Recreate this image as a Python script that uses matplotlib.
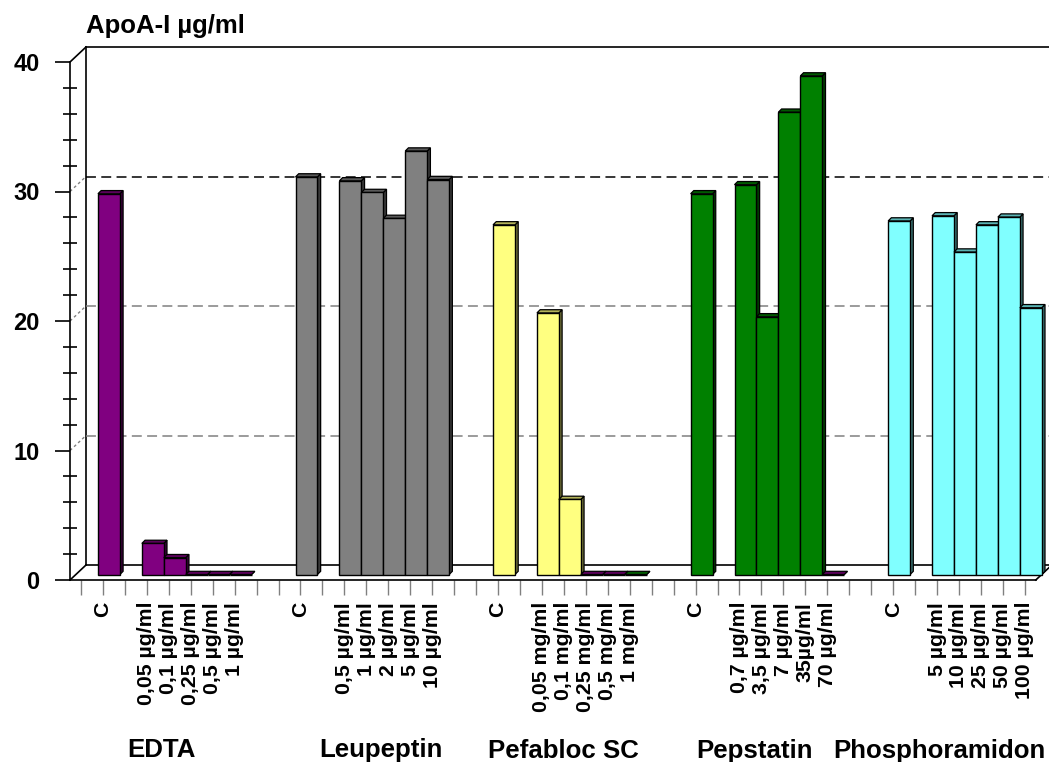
import matplotlib
matplotlib.use('Agg')
from matplotlib import pyplot as plt
from matplotlib.patches import Polygon
from matplotlib.ticker import MultipleLocator
import matplotlib.transforms as mtransforms
import matplotlib.colors as mcolors

plt.rcParams['font.family'] = ['Liberation Sans', 'DejaVu Sans']
plt.rcParams['font.weight'] = 'bold'

# data (ApoA-I, ug/ml)
groups = ['EDTA', 'Leupeptin', 'Pefabloc SC', 'Pepstatin', 'Phosphoramidon']
control = [29.4, 30.7, 27.0, 29.4, 27.3]
edta = [2.4, 1.3, 0.0, 0.0, 0.0]
leupeptin = [30.4, 29.5, 27.5, 32.7, 30.5]
pefabloc = [20.2, 5.8, 0.0, 0.0, 0.0]
pepstatin = [30.1, 19.9, 35.7, 38.5, 0.0]
phosphoramidon = [27.7, 24.9, 27.0, 27.6, 20.6]

edta_labels = ['0,05 µg/ml', '0,1 µg/ml', '0,25 µg/ml', '0,5 µg/ml', '1 µg/ml']
leupeptin_labels = ['0,5 µg/ml', '1 µg/ml', '2 µg/ml', '5 µg/ml', '10 µg/ml']
pefabloc_labels = ['0,05 mg/ml', '0,1 mg/ml', '0,25 mg/ml', '0,5 mg/ml', '1 mg/ml']
pepstatin_labels = ['0,7 µg/ml', '3,5 µg/ml', '7 µg/ml', '35µg/ml', '70 µg/ml']
phosphoramidon_labels = ['5 µg/ml', '10 µg/ml', '25 µg/ml', '50 µg/ml', '100 µg/ml']

series = [edta, leupeptin, pefabloc, pepstatin, phosphoramidon]
series_labels = [edta_labels, leupeptin_labels, pefabloc_labels,
                 pepstatin_labels, phosphoramidon_labels]

group_colors = ['#800080', '#808080', '#FFFF80', '#008000', '#80FFFF']
# the flat (zero) slabs in the original come out in odd colours
slab_colors = {(2, 2): '#800080', (2, 3): '#800080', (2, 4): '#008000',
               (3, 4): '#800080'}

# geometry of the pseudo-3D box (pixels -> data units)
px_x = 21.95   # pixels per category slot
px_y = 12.95   # pixels per ug/ml
n_slots = 44
dxf, dyf = 16 / px_x, 15 / px_y        # full depth of the box
bx, by = 6 / px_x, 5.5 / px_y          # bar front face offset
ddx, ddy = 3.2 / px_x, 3.2 / px_y      # bar thickness

fig = plt.figure(figsize=(10.49, 7.62), dpi=100)
ax = fig.add_axes([70 / 1049, 182 / 762, 979 / 1049, 533 / 762])
xmax = -0.5 + 979 / px_x
ax.set_xlim(-0.5, xmax)
ax.set_ylim(0, 533 / px_y)

# walls and floor
x_back = -0.5 + dxf
wall = dict(color='black', lw=1.2, clip_on=False, zorder=1)
ax.plot([x_back, x_back], [dyf, 40 + dyf], **wall)
ax.plot([x_back, xmax], [40 + dyf, 40 + dyf], **wall)
ax.plot([-0.5, x_back], [40, 40 + dyf], **wall)
ax.plot([x_back, xmax], [dyf, dyf], **wall)
ax.plot([-0.5, x_back], [0, dyf], **wall)
ax.plot([n_slots - 0.5, n_slots - 0.5 + dxf], [0, dyf], **wall)

grid_colors = {10: '#808080', 20: '#808080', 30: '#000000'}
for v, c in grid_colors.items():
    ax.plot([x_back, xmax], [v + dyf, v + dyf], color=c, lw=1.1,
            ls=(0, (6.5, 3.5)), zorder=1)
    ax.plot([-0.5, x_back], [v, v + dyf], color='#808080', lw=1,
            ls=(0, (2, 2)), zorder=1)


def shade(c, f):
    r, g, b = mcolors.to_rgb(c)
    return (r * f, g * f, b * f)


tick_pos = []
tick_lab = []
k = 0
for g, name in enumerate(groups):
    start = 1 + 9 * g
    slots = [start] + [start + 2 + j for j in range(5)]
    values = [control[g]] + series[g]
    labels = ['C'] + series_labels[g]
    for j, (s, v) in enumerate(zip(slots, values)):
        c = group_colors[g]
        if j > 0 and (g, j - 1) in slab_colors:
            c = slab_colors[(g, j - 1)]
        z = 3 + k * 0.01
        x0 = s - 0.5 + bx
        x1 = s + 0.5 + bx
        y0 = by
        y1 = v + by
        ax.add_patch(Polygon([(x1, y0), (x1 + ddx, y0 + ddy), (x1 + ddx, y1 + ddy), (x1, y1)],
                             closed=True, facecolor=shade(c, 0.45), edgecolor='black',
                             lw=0.9, zorder=z))
        ax.add_patch(Polygon([(x0, y1), (x1, y1), (x1 + ddx, y1 + ddy), (x0 + ddx, y1 + ddy)],
                             closed=True, facecolor=shade(c, 0.7), edgecolor='black',
                             lw=0.9, zorder=z + 0.001))
        ax.bar(x0, v, width=1, bottom=by, align='edge', color=c,
               edgecolor='black', lw=1.0, zorder=z + 0.002)
        tick_pos.append(s)
        tick_lab.append(labels[j])
        k += 1

all_labels = [''] * n_slots
for p, l in zip(tick_pos, tick_lab):
    all_labels[p] = l
ax.set_xticks(range(n_slots))
ax.set_xticklabels(all_labels, rotation=90, fontsize=15.3, fontweight='bold')
ax.tick_params(axis='x', length=10.8, width=1, direction='out', color='#808080', pad=5)

ax.yaxis.set_major_locator(MultipleLocator(10))
ax.yaxis.set_minor_locator(MultipleLocator(2))
ax.set_yticks([0, 10, 20, 30, 40])
ax.tick_params(axis='y', which='major', length=10.8, width=1.2, direction='out',
               pad=11, labelsize=17)
ax.tick_params(axis='y', which='minor', length=10, width=1.2, direction='inout')

for side in ['top', 'right']:
    ax.spines[side].set_visible(False)
ax.spines['left'].set_bounds(0, 40)
ax.spines['bottom'].set_bounds(-0.5, n_slots - 0.5)
ax.spines['left'].set_linewidth(1.2)
ax.spines['bottom'].set_linewidth(1.2)

# group names under the tick labels
trans = mtransforms.blended_transform_factory(ax.transData, fig.transFigure)
group_x = [3.65, 13.66, 21.97, 30.7, 43.95]
group_ha = ['center', 'center', 'center', 'center', 'right']
group_y = [0.0066, 0.0066, 0.0052, 0.0052, 0.0052]
for name, gx, ha, gy in zip(groups, group_x, group_ha, group_y):
    ax.text(gx, gy, name, transform=trans, ha=ha, va='baseline',
            fontsize=18.6, fontweight='bold', clip_on=False)

fig.text(86 / 1049, (762 - 33) / 762, 'ApoA-I µg/ml', fontsize=18.5,
         fontweight='bold', va='baseline', ha='left')

plt.savefig('out.png', dpi=100)
